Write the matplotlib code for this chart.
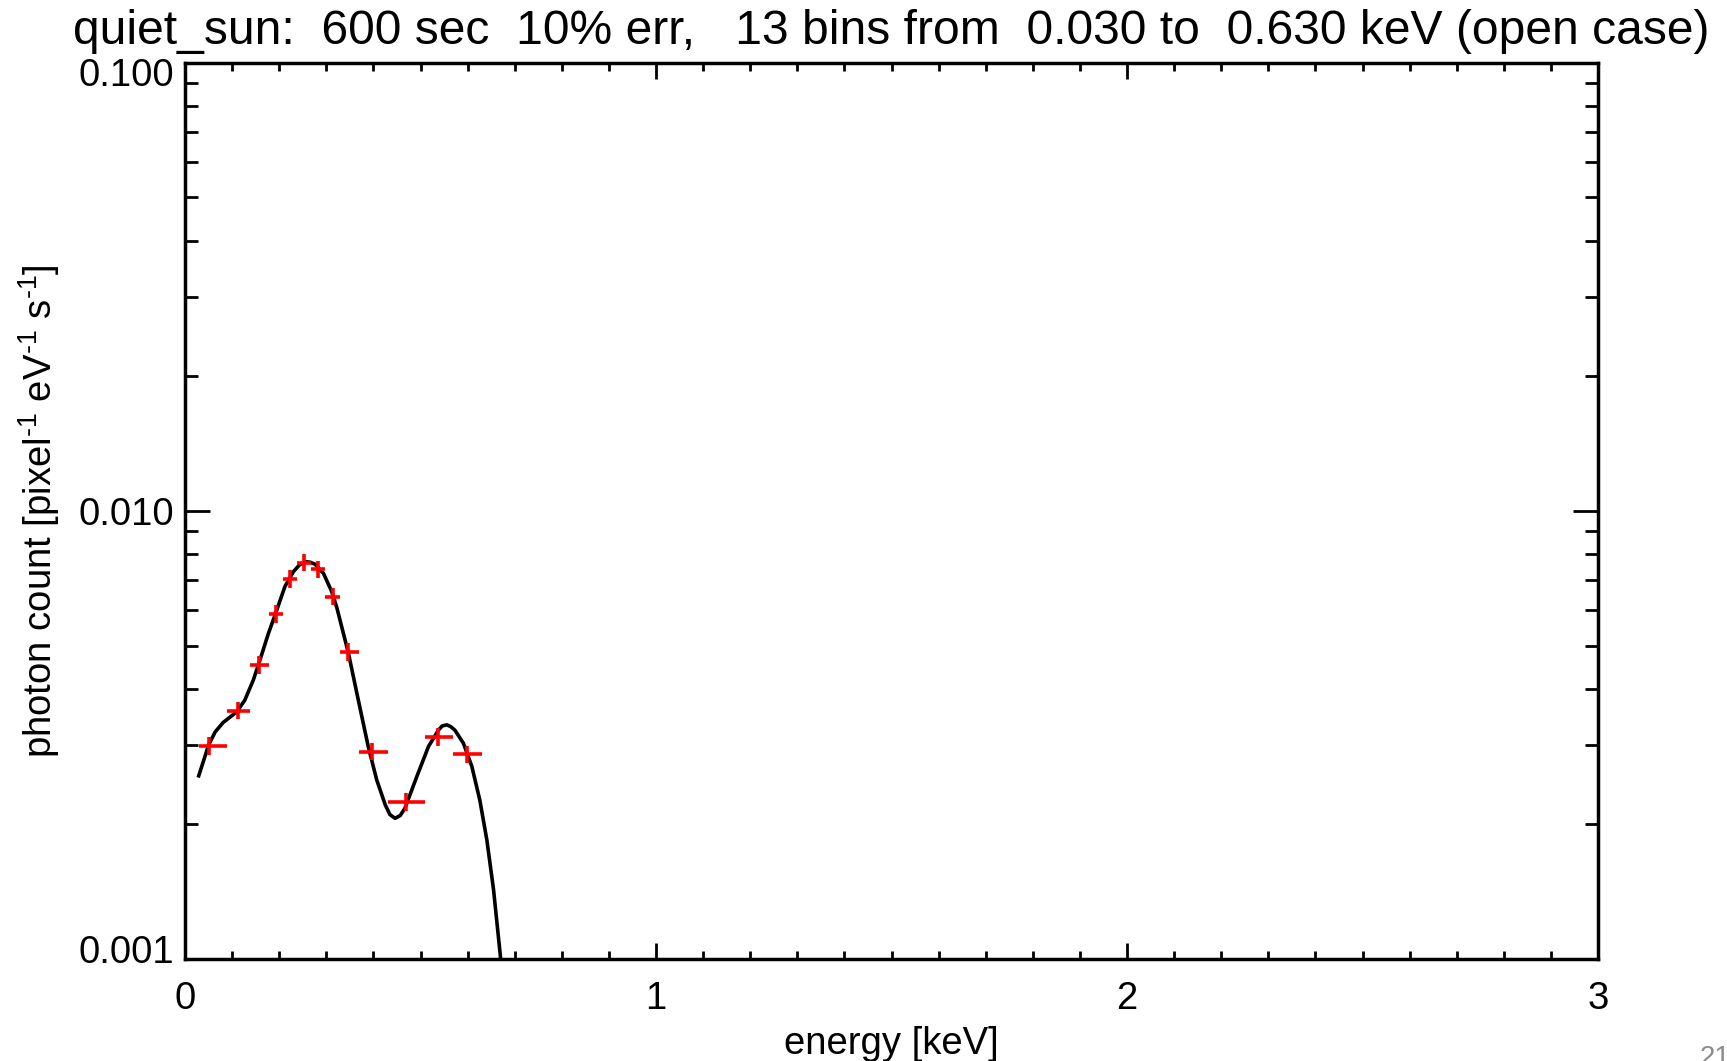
import matplotlib
matplotlib.use("Agg")
import matplotlib.pyplot as plt
from matplotlib.ticker import MultipleLocator, LogLocator, NullFormatter
from matplotlib.transforms import ScaledTranslation

plt.rcParams['font.family'] = ['Liberation Sans', 'DejaVu Sans']
plt.rcParams['mathtext.fontset'] = 'custom'
plt.rcParams['mathtext.rm'] = 'Liberation Sans'
plt.rcParams['mathtext.it'] = 'Liberation Sans'
plt.rcParams['mathtext.bf'] = 'Liberation Sans:bold'

# Model spectrum (energy in keV, photon count per pixel per eV per s)
model_energy = [0.028, 0.039, 0.050, 0.064, 0.081, 0.110, 0.127, 0.145, 0.159,
                0.177, 0.195, 0.212, 0.230, 0.243, 0.255, 0.265, 0.276, 0.294,
                0.311, 0.322, 0.347, 0.368, 0.389, 0.407, 0.425, 0.435, 0.446,
                0.457, 0.467, 0.492, 0.517, 0.538, 0.546, 0.556, 0.564, 0.573,
                0.591, 0.609, 0.626, 0.641, 0.655, 0.669, 0.672]
model_flux = [0.00254, 0.00276, 0.00300, 0.00321, 0.00337, 0.00356, 0.00378,
              0.00419, 0.00464, 0.00532, 0.00601, 0.00677, 0.00731, 0.00757,
              0.00770, 0.00768, 0.00760, 0.00725, 0.00662, 0.00610, 0.00481,
              0.00378, 0.00298, 0.00251, 0.00221, 0.00210, 0.00206, 0.00209,
              0.00217, 0.00255, 0.00298, 0.00324, 0.00331, 0.00333, 0.00330,
              0.00324, 0.00303, 0.00269, 0.00226, 0.00184, 0.00143, 0.00103,
              0.00095]

# Binned counts: 13 bins from 0.030 to 0.630 keV
bin_edges = [0.030, 0.089, 0.138, 0.179, 0.209, 0.238, 0.267, 0.297, 0.329,
             0.369, 0.430, 0.510, 0.569, 0.630]
bin_energy = [0.051, 0.112, 0.158, 0.193, 0.223, 0.253, 0.283, 0.314, 0.346,
              0.396, 0.469, 0.537, 0.598]
bin_counts = [0.00299, 0.00358, 0.00453, 0.00588, 0.00704, 0.00766, 0.00740,
              0.00643, 0.00484, 0.00290, 0.00224, 0.00313, 0.00286]
bar_factor = 1.046

y_ticks = [0.001, 0.01, 0.1]
y_ticklabels = ['0.001', '0.010', '0.100']
x_ticks = [0, 1, 2, 3]
x_ticklabels = ['0', '1', '2', '3']

title = "quiet_sun:  600 sec  10% err,   13 bins from  0.030 to  0.630 keV (open case)"

W, H = 1727, 1061
fig = plt.figure(figsize=(W / 100, H / 100), dpi=100)
ax = fig.add_axes([185 / W, (H - 959) / H, 1413 / W, 896.5 / H])

ax.set_yscale('log')
ax.set_xlim(0, 3)
ax.set_ylim(0.001, 0.1)

ax.plot(model_energy, model_flux, color='black', lw=2.6,
        solid_joinstyle='round', solid_capstyle='butt')

x_lo = [c - lo for c, lo in zip(bin_energy, bin_edges[:-1])]
x_hi = [hi - c for c, hi in zip(bin_energy, bin_edges[1:])]
y_lo = [v - v / bar_factor for v in bin_counts]
y_hi = [v * bar_factor - v for v in bin_counts]
ax.errorbar(bin_energy, bin_counts, xerr=[x_lo, x_hi], yerr=[y_lo, y_hi],
            fmt='none', ecolor='#ff0000', elinewidth=2.6, capsize=0, zorder=3)

ax.set_yticks(y_ticks)
ax.set_yticklabels(y_ticklabels)
ax.yaxis.set_minor_locator(LogLocator(base=10, subs=range(2, 10)))
ax.yaxis.set_minor_formatter(NullFormatter())
ax.set_xticks(x_ticks)
ax.set_xticklabels(x_ticklabels)
ax.xaxis.set_minor_locator(MultipleLocator(0.1))

ax.tick_params(which='both', direction='in', top=True, right=True,
               width=2, color='black')
ax.tick_params(axis='x', which='major', length=11.5, pad=16, labelsize=27.5)
ax.tick_params(axis='x', which='minor', length=6)
ax.tick_params(axis='y', which='major', length=18, pad=8, labelsize=27.5)
ax.tick_params(axis='y', which='minor', length=9.5)
for s in ax.spines.values():
    s.set_linewidth(2.5)

# end labels sit just inside the axis range
ylabels = ax.get_yticklabels()
ylabels[0].set_transform(ylabels[0].get_transform()
                         + ScaledTranslation(0, 10 / 100, fig.dpi_scale_trans))
ylabels[-1].set_transform(ylabels[-1].get_transform()
                          + ScaledTranslation(0, -9 / 100, fig.dpi_scale_trans))

ax.set_title(title, fontsize=34.6, pad=13)
ax.set_xlabel('energy [keV]', fontsize=27.5, labelpad=6)
ax.set_ylabel(r'photon count [pixel$^{\text{-}1}$ eV$^{\text{-}1}$ s$^{\text{-}1}$]',
              fontsize=27.5)
ax.yaxis.set_label_coords(-0.087, 0.5)

fig.text(1700 / W, 1 - 1045 / H, '21', fontsize=20, color='#8c8c8c',
         ha='left', va='top')

fig.savefig('out.png', dpi=100)
